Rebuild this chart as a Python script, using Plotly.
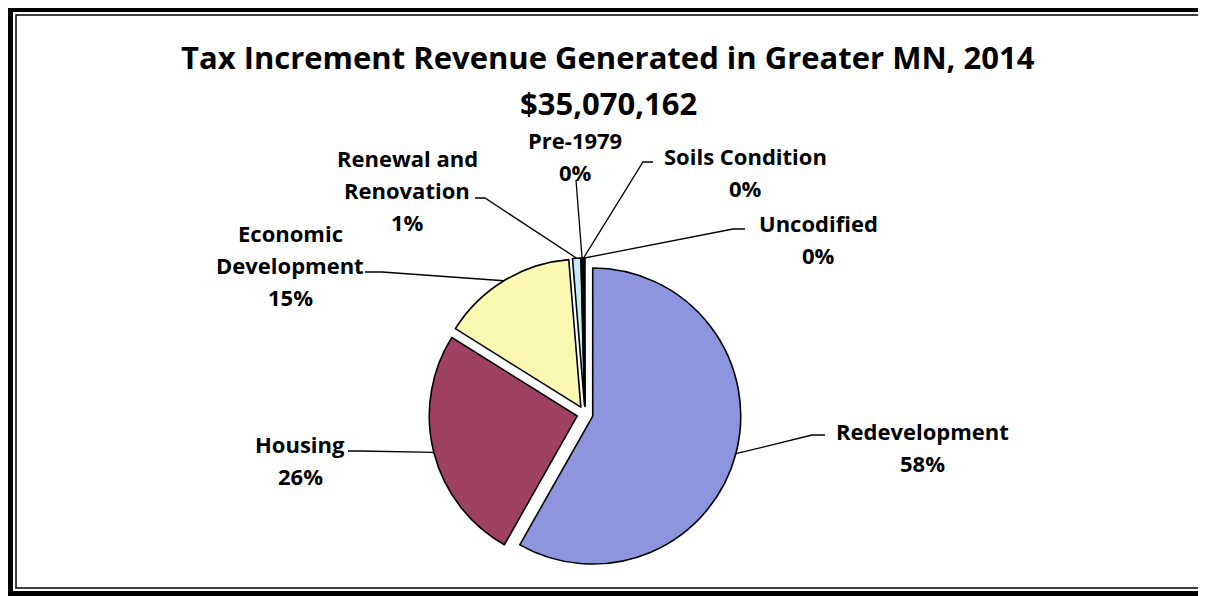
import math
import plotly.graph_objects as go

# ---- data ----
categories = ["Redevelopment", "Housing", "Economic Development", "Renewal and Renovation",
              "Pre-1979", "Soils Condition", "Uncodified"]
shares = [58.2, 25.7, 14.8, 0.9, 0.2, 0.1, 0.1]
label_lines = [["Redevelopment"], ["Housing"], ["Economic", "Development"], ["Renewal and", "Renovation"],
               ["Pre-1979"], ["Soils Condition"], ["Uncodified"]]
colors = ["#8C95DD", "#9E4163", "#FBF8B2", "#C5EDF7", "#7E5B9A", "#4BACC6", "#F79646"]
title_lines = ["Tax Increment Revenue Generated in Greater MN, 2014", "$35,070,162"]

SCREEN_W, SCREEN_H = 1206, 596
OFF = 8                    # page body margin in the browser
W, H = SCREEN_W - OFF, SCREEN_H - OFF
FONT = "Open Sans"

# ---- layout geometry (screen pixels) ----
CX, CY = 585, 414          # pie centre
R = 148                    # slice radius
PULL = 0.054
REACH = R * (1 + PULL)

label_pos = [(923, 431), (300, 444), (290, 233), (407, 158), (575, 140), (745, 156), (818, 223)]
leader_start = [(825, 435), (348, 451), (365, 272), (475, 198), (576, 180), (653, 162), (745, 229)]
leader_elbow = [(812, 435), (360, 451), (382, 272), (485, 198), (576, 180), (643, 162), (733, 229)]
LINE_GAP = 32


def px(x):
    return (x - OFF) / W


def py(y):
    return 1 - (y - OFF) / H


total = sum(shares)
fig = go.Figure(go.Pie(
    labels=categories, values=shares, sort=False, direction="clockwise", rotation=0,
    pull=[PULL] * len(shares), textinfo="none", hoverinfo="label+percent",
    marker=dict(colors=colors, line=dict(color="black", width=1.6)),
    domain=dict(x=[px(CX - REACH), px(CX + REACH)],
                y=[py(CY + REACH), py(CY - REACH)]),
    showlegend=False,
))

annotations = []
shapes = []
cum = 0.0
for i, (cat, val) in enumerate(zip(categories, shares)):
    mid = (cum + val / 2) / total * 2 * math.pi
    cum += val
    ex, ey = CX + REACH * math.sin(mid), CY - REACH * math.cos(mid)
    lines = label_lines[i] + [f"{round(val / total * 100)}%"]
    lx, ly = label_pos[i]
    for k, t in enumerate(lines):
        annotations.append(dict(
            x=px(lx), y=py(ly + k * LINE_GAP), xref="paper", yref="paper", text=t,
            showarrow=False, xanchor="center", yanchor="middle",
            font=dict(family=FONT, size=22, color="black", weight="bold")))
    sx, sy = leader_start[i]
    bx, by = leader_elbow[i]
    shapes.append(dict(
        type="path", xref="paper", yref="paper",
        path=f"M {px(sx)},{py(sy)} L {px(bx)},{py(by)} L {px(ex)},{py(ey)}",
        line=dict(color="black", width=1.3)))

for k, t in enumerate(title_lines):
    annotations.append(dict(
        x=px(608), y=py(57 + k * 46), xref="paper", yref="paper", text=t, showarrow=False,
        xanchor="center", yanchor="middle",
        font=dict(family=FONT, size=31, color="black", weight="bold")))

# frame
shapes.append(dict(type="rect", xref="paper", yref="paper",
                   x0=px(9), y0=py(8), x1=px(1212), y1=py(595),
                   line=dict(color="black", width=8)))
shapes.append(dict(type="rect", xref="paper", yref="paper",
                   x0=px(16), y0=py(15), x1=px(1204), y1=py(588),
                   line=dict(color="black", width=1.5)))

fig.update_layout(width=W, height=H, margin=dict(l=0, r=0, t=0, b=0),
                  paper_bgcolor="white", plot_bgcolor="white",
                  annotations=annotations, shapes=shapes)
fig.write_html("out.html")
